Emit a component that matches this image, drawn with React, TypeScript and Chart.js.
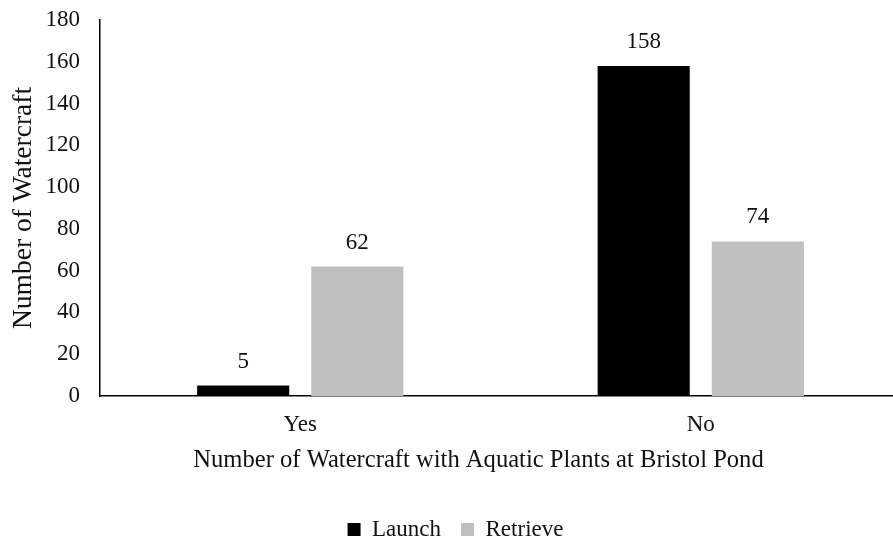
import React, { useEffect, useRef } from "react";
import { Chart, registerables } from "chart.js";

Chart.register(...registerables);

const categories = ["Yes", "No"];
const launchValues = [5, 158];
const retrieveValues = [62, 74];
const yTicks = [0, 20, 40, 60, 80, 100, 120, 140, 160, 180];
const seriesNames = ["Launch", "Retrieve"];
const xTitle = "Number of Watercraft with Aquatic Plants at Bristol Pond";
const yTitle = "Number of Watercraft";

const FONT = "'Liberation Serif', 'Times New Roman', serif";

const dataLabelPlugin = {
  id: "dataLabels",
  afterLayout(chart: any) {
    if (chart.legend) {
      chart.legend.left += 5;
      chart.legend.right += 5;
    }
  },
  afterDatasetsDraw(chart: any) {
    const ctx = chart.ctx;
    ctx.save();
    ctx.font = `23px ${FONT}`;
    ctx.fillStyle = "#111";
    ctx.textAlign = "center";
    ctx.textBaseline = "middle";
    chart.data.datasets.forEach((ds: any, i: number) => {
      const meta = chart.getDatasetMeta(i);
      meta.data.forEach((bar: any, j: number) => {
        ctx.fillText(String(ds.data[j]), bar.x, bar.y - 24);
      });
    });
    ctx.restore();
  },
  afterDraw(chart: any) {
    const ctx = chart.ctx;
    const area = chart.chartArea;
    ctx.save();
    ctx.font = `24.6px ${FONT}`;
    ctx.fillStyle = "#111";
    ctx.textAlign = "center";
    ctx.textBaseline = "middle";
    ctx.fillText(xTitle, (area.left + area.right) / 2 - 22, area.bottom + 65);
    ctx.restore();
  },
};

export default function App() {
  const ref = useRef<HTMLCanvasElement>(null);
  useEffect(() => {
    if (!ref.current) return;
    const chart = new Chart(ref.current, {
      type: "bar",
      data: {
        labels: categories,
        datasets: [
          {
            label: seriesNames[0],
            data: launchValues,
            backgroundColor: "#000000",
            categoryPercentage: 0.57,
            barPercentage: 0.807,
          },
          {
            label: seriesNames[1],
            data: retrieveValues,
            backgroundColor: "#bfbfbf",
            categoryPercentage: 0.57,
            barPercentage: 0.807,
          },
        ],
      },
      options: {
        animation: false,
        responsive: true,
        maintainAspectRatio: false,
        layout: { padding: { top: 20, right: 19, bottom: -9, left: 0 } },
        plugins: {
          tooltip: { enabled: false },
          legend: {
            position: "bottom",
            labels: {
              color: "#111",
              font: { family: FONT, size: 23 },
              boxWidth: 13,
              boxHeight: 13,
              padding: 20,
            },
          },
        },
        scales: {
          x: {
            grid: { display: false, drawTicks: false },
            border: { display: true, color: "#000", width: 1.5 },
            ticks: { color: "#111", font: { family: FONT, size: 23 }, padding: 15 },
            title: { display: false, text: xTitle },
            afterFit: (s: any) => {
              s.height = 102;
            },
          },
          y: {
            min: 0,
            max: 180,
            afterBuildTicks: (s: any) => {
              s.ticks = yTicks.map((v) => ({ value: v }));
            },
            grid: { display: false, drawTicks: false },
            border: { display: true, color: "#000", width: 1.5 },
            ticks: { color: "#111", font: { family: FONT, size: 23 }, padding: 20 },
            title: {
              display: true,
              text: yTitle,
              color: "#111",
              font: { family: FONT, size: 27.5 },
              padding: { top: 7, bottom: 0 },
            },
            afterFit: (s: any) => {
              s.width = 100;
              s.paddingTop = 0;
              s.paddingBottom = 0;
            },
          },
        },
      },
      plugins: [dataLabelPlugin],
    });
    return () => chart.destroy();
  }, []);
  return (
    <div style={{ position: "fixed", left: 0, top: 0, width: 920, height: 542 }}>
      <canvas ref={ref} />
    </div>
  );
}
